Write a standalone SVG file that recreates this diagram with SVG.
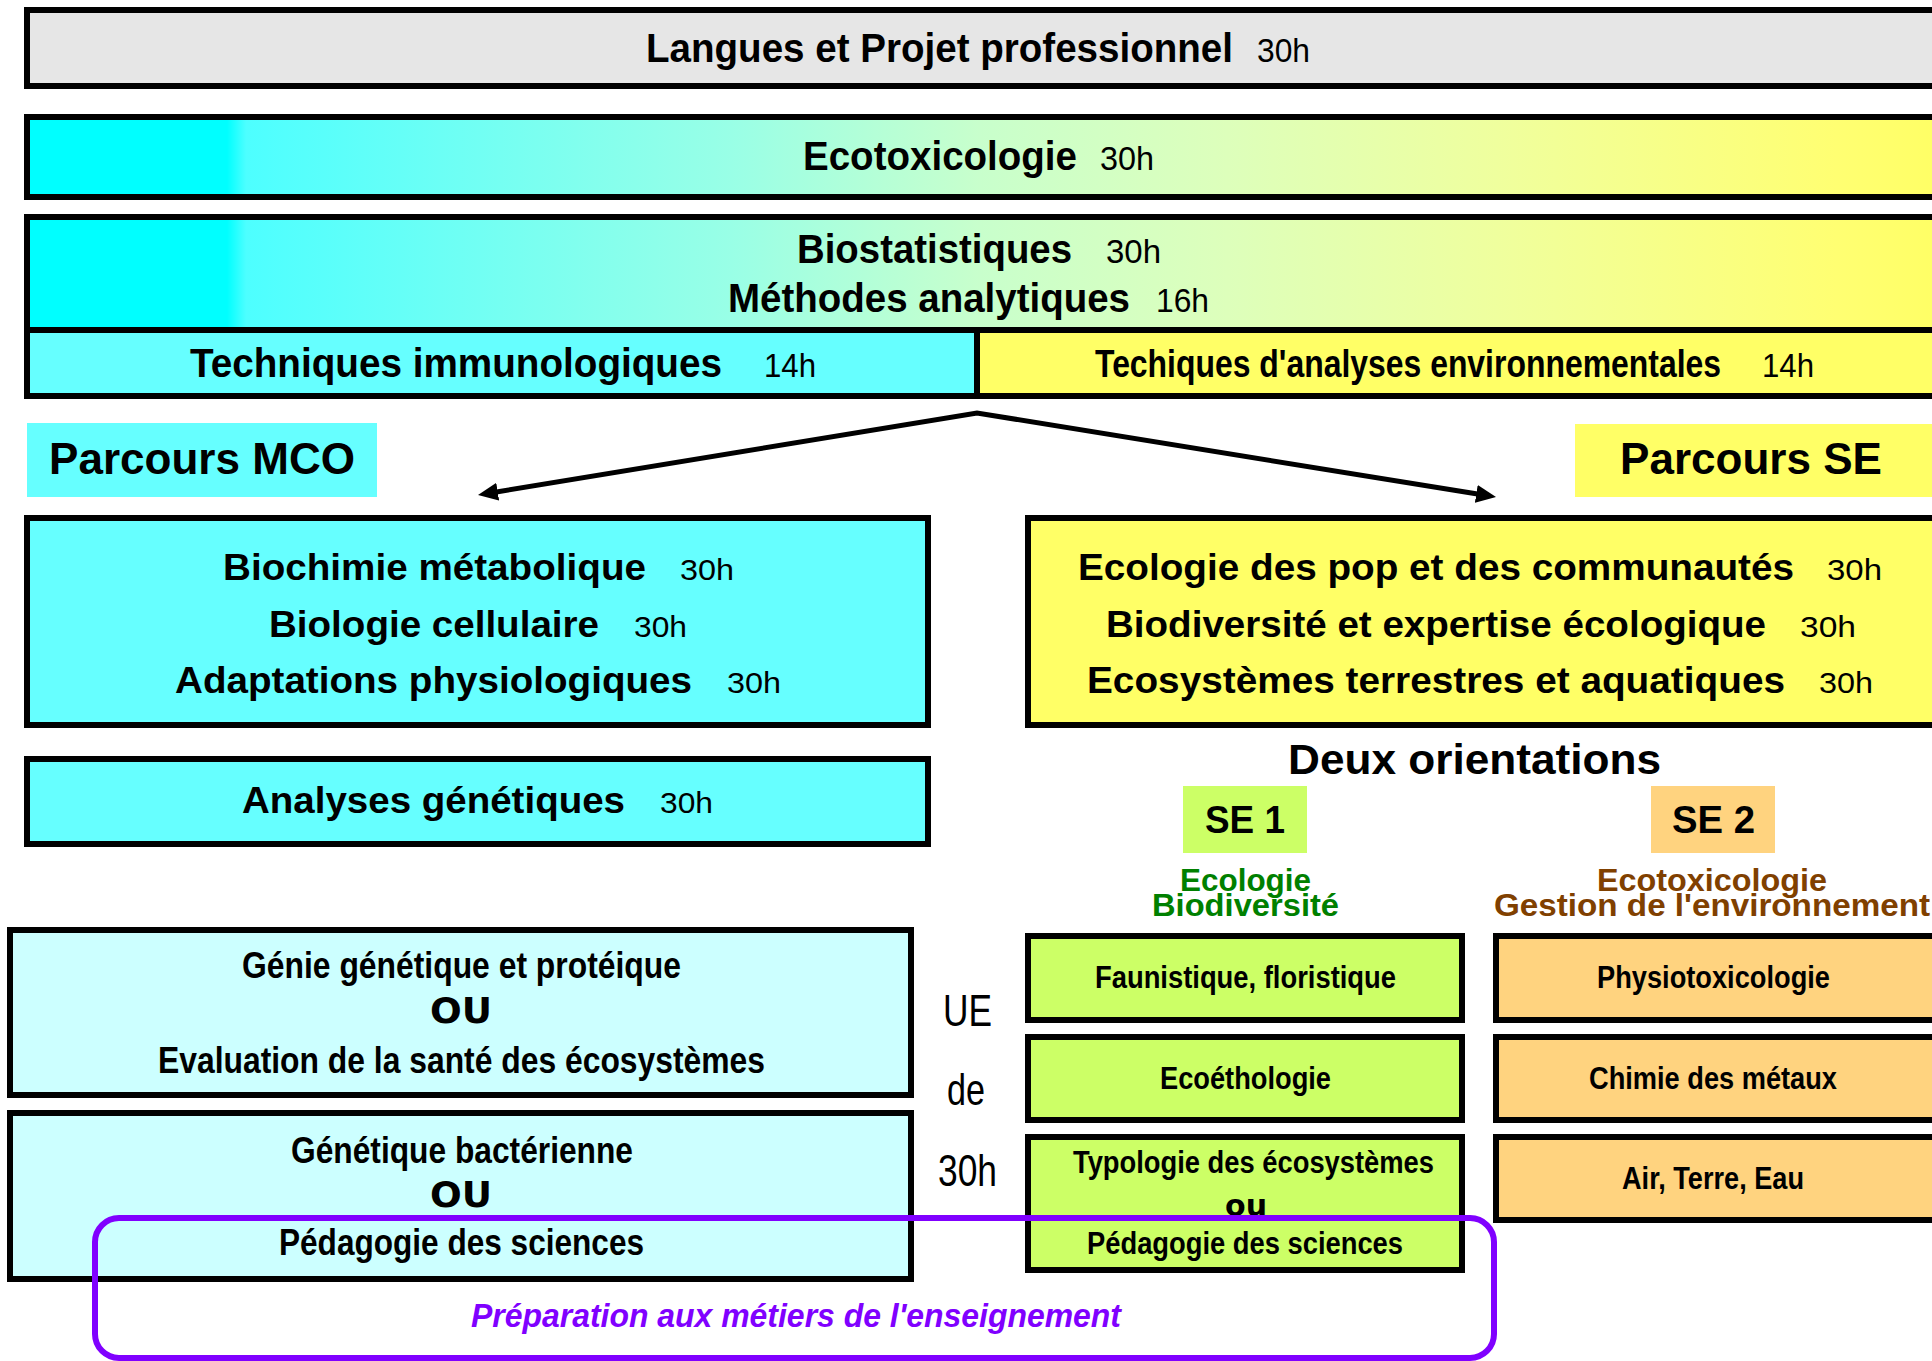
<svg xmlns="http://www.w3.org/2000/svg" width="1932" height="1361" viewBox="0 0 1932 1361">
<style>
text{font-family:'Liberation Sans',Arial,Helvetica,sans-serif;fill:#000}
.b{font-weight:bold}
.n{font-weight:normal}
.s44{font-size:44px}.s42{font-size:42px}.s40{font-size:40px}.s38{font-size:38px}.s36{font-size:36px}.s34{font-size:34px}.s32{font-size:32px}.s30{font-size:30px}
.ou{font-family:'DejaVu Sans',Verdana,sans-serif;font-weight:bold}
.box{stroke:#000;stroke-width:6}
.cy{fill:#66FFFF}.ye{fill:#FFFF66}.lc{fill:#CCFFFF}.gr{fill:#CCFF66}.or{fill:#FFD37F}
.green{fill:#008000}.brown{fill:#804000}
.purple{fill:#8000FF}
</style>
<defs>
<linearGradient id="grad" gradientUnits="userSpaceOnUse" x1="27" y1="0" x2="1932" y2="0">
<stop offset="0" stop-color="#00FFFF"/>
<stop offset="0.105" stop-color="#00FFFF"/>
<stop offset="0.115" stop-color="#4DFFFF"/>
<stop offset="0.37" stop-color="#99FFE6"/>
<stop offset="0.50" stop-color="#C8FFCC"/>
<stop offset="0.63" stop-color="#DDFFBB"/>
<stop offset="0.78" stop-color="#F0FF9C"/>
<stop offset="0.95" stop-color="#FFFF72"/>
<stop offset="1" stop-color="#FFFF66"/>
</linearGradient>
<marker id="arr" markerUnits="userSpaceOnUse" markerWidth="20" markerHeight="18" refX="6" refY="9" orient="auto-start-reverse">
<path d="M0,0 L20,9 L0,18 z" fill="#000"/>
</marker>
</defs>
<rect width="1932" height="1361" fill="#fff"/>

<g id="langues">
<rect class="box" x="27" y="10" width="1910" height="76" fill="#E6E6E6"/>
<text class="b s40" x="646" y="62" textLength="587" lengthAdjust="spacingAndGlyphs">Langues et Projet professionnel</text>
<text class="n s34" x="1257" y="62" textLength="53" lengthAdjust="spacingAndGlyphs">30h</text>
</g>

<g id="ecotox">
<rect class="box" x="27" y="117" width="1910" height="80" fill="url(#grad)"/>
<text class="b s40" x="803" y="170" textLength="274" lengthAdjust="spacingAndGlyphs">Ecotoxicologie</text>
<text class="n s34" x="1100" y="170" textLength="54" lengthAdjust="spacingAndGlyphs">30h</text>
</g>

<g id="biostat">
<rect class="box" x="27" y="217" width="1910" height="113" fill="url(#grad)"/>
<text class="b s40" x="797" y="263" textLength="275" lengthAdjust="spacingAndGlyphs">Biostatistiques</text>
<text class="n s34" x="1106" y="263" textLength="55" lengthAdjust="spacingAndGlyphs">30h</text>
<text class="b s40" x="728" y="312" textLength="402" lengthAdjust="spacingAndGlyphs">Méthodes analytiques</text>
<text class="n s34" x="1156" y="312" textLength="53" lengthAdjust="spacingAndGlyphs">16h</text>
</g>

<g id="techniques-immuno">
<rect class="box cy" x="27" y="330" width="950" height="66"/>
<text class="b s40" x="190" y="377" textLength="532" lengthAdjust="spacingAndGlyphs">Techniques immunologiques</text>
<text class="n s34" x="764" y="377" textLength="52" lengthAdjust="spacingAndGlyphs">14h</text>
</g>

<g id="techniques-env">
<rect class="box ye" x="977" y="330" width="960" height="66"/>
<text class="b s38" x="1095" y="377" textLength="626" lengthAdjust="spacingAndGlyphs">Techiques d'analyses environnementales</text>
<text class="n s34" x="1762" y="377" textLength="52" lengthAdjust="spacingAndGlyphs">14h</text>
</g>

<g id="parcours-mco">
<rect class="cy" x="27" y="423" width="350" height="74"/>
<text class="b s44" x="49" y="474" textLength="306" lengthAdjust="spacingAndGlyphs">Parcours MCO</text>
</g>

<g id="parcours-se">
<rect class="ye" x="1575" y="424" width="357" height="73"/>
<text class="b s44" x="1620" y="474" textLength="262" lengthAdjust="spacingAndGlyphs">Parcours SE</text>
</g>

<g id="connectors">
<path d="M491.8,492.7 L977,413 L1482.2,494.8" fill="none" stroke="#000" stroke-width="5" stroke-linejoin="miter" marker-start="url(#arr)" marker-end="url(#arr)"/>
</g>

<g id="mco-ue">
<rect class="box cy" x="27" y="518" width="901" height="207"/>
<text class="b s36" x="223" y="580" textLength="423" lengthAdjust="spacingAndGlyphs">Biochimie métabolique</text>
<text class="n s30" x="680" y="580" textLength="54" lengthAdjust="spacingAndGlyphs">30h</text>
<text class="b s36" x="269" y="637" textLength="330" lengthAdjust="spacingAndGlyphs">Biologie cellulaire</text>
<text class="n s30" x="634" y="637" textLength="53" lengthAdjust="spacingAndGlyphs">30h</text>
<text class="b s36" x="175" y="693" textLength="517" lengthAdjust="spacingAndGlyphs">Adaptations physiologiques</text>
<text class="n s30" x="727" y="693" textLength="54" lengthAdjust="spacingAndGlyphs">30h</text>
</g>

<g id="analyses">
<rect class="box cy" x="27" y="759" width="901" height="85"/>
<text class="b s36" x="242" y="813" textLength="383" lengthAdjust="spacingAndGlyphs">Analyses génétiques</text>
<text class="n s30" x="660" y="813" textLength="53" lengthAdjust="spacingAndGlyphs">30h</text>
</g>

<g id="se-ue">
<rect class="box ye" x="1028" y="518" width="910" height="207"/>
<text class="b s36" x="1078" y="580" textLength="716" lengthAdjust="spacingAndGlyphs">Ecologie des pop et des communautés</text>
<text class="n s30" x="1827" y="580" textLength="55" lengthAdjust="spacingAndGlyphs">30h</text>
<text class="b s36" x="1106" y="637" textLength="660" lengthAdjust="spacingAndGlyphs">Biodiversité et expertise écologique</text>
<text class="n s30" x="1800" y="637" textLength="56" lengthAdjust="spacingAndGlyphs">30h</text>
<text class="b s36" x="1087" y="693" textLength="698" lengthAdjust="spacingAndGlyphs">Ecosystèmes terrestres et aquatiques</text>
<text class="n s30" x="1819" y="693" textLength="54" lengthAdjust="spacingAndGlyphs">30h</text>
</g>

<g id="deux-orientations">
<text class="b s42" x="1288" y="774" textLength="373" lengthAdjust="spacingAndGlyphs">Deux orientations</text>
</g>

<g id="se1">
<rect class="gr" x="1183" y="786" width="124" height="67"/>
<text class="b s38" x="1205" y="833" textLength="80" lengthAdjust="spacingAndGlyphs">SE 1</text>
<text class="b s32 green" x="1180" y="891" textLength="131" lengthAdjust="spacingAndGlyphs">Ecologie</text>
<text class="b s32 green" x="1152" y="916" textLength="187" lengthAdjust="spacingAndGlyphs">Biodiversité</text>
</g>

<g id="se2">
<rect class="or" x="1651" y="786" width="124" height="67"/>
<text class="b s38" x="1672" y="833" textLength="83" lengthAdjust="spacingAndGlyphs">SE 2</text>
<text class="b s32 brown" x="1597" y="891" textLength="230" lengthAdjust="spacingAndGlyphs">Ecotoxicologie</text>
<text class="b s32 brown" x="1494" y="916" textLength="436" lengthAdjust="spacingAndGlyphs">Gestion de l'environnement</text>
</g>

<g id="mco-option1">
<rect class="box lc" x="10" y="930" width="901" height="165"/>
<text class="b s36" x="242" y="978" textLength="439" lengthAdjust="spacingAndGlyphs">Génie génétique et protéique</text>
<text class="ou s36" x="430" y="1023" textLength="62" lengthAdjust="spacingAndGlyphs">OU</text>
<text class="b s36" x="158" y="1073" textLength="607" lengthAdjust="spacingAndGlyphs">Evaluation de la santé des écosystèmes</text>
</g>

<g id="mco-option2">
<rect class="box lc" x="10" y="1113" width="901" height="166"/>
<text class="b s36" x="291" y="1163" textLength="342" lengthAdjust="spacingAndGlyphs">Génétique bactérienne</text>
<text class="ou s36" x="430" y="1207" textLength="62" lengthAdjust="spacingAndGlyphs">OU</text>
<text class="b s36" x="279" y="1255" textLength="365" lengthAdjust="spacingAndGlyphs">Pédagogie des sciences</text>
</g>

<g id="ue-de-30h">
<text class="n s44" x="943" y="1026" textLength="49" lengthAdjust="spacingAndGlyphs">UE</text>
<text class="n s44" x="947" y="1105" textLength="38" lengthAdjust="spacingAndGlyphs">de</text>
<text class="n s44" x="938" y="1186" textLength="59" lengthAdjust="spacingAndGlyphs">30h</text>
</g>

<g id="faunistique">
<rect class="box gr" x="1028" y="936" width="434" height="84"/>
<text class="b s32" x="1095" y="988" textLength="301" lengthAdjust="spacingAndGlyphs">Faunistique, floristique</text>
</g>
<g id="ecoethologie">
<rect class="box gr" x="1028" y="1037" width="434" height="83"/>
<text class="b s32" x="1160" y="1089" textLength="171" lengthAdjust="spacingAndGlyphs">Ecoéthologie</text>
</g>
<g id="typologie">
<rect class="box gr" x="1028" y="1137" width="434" height="133"/>
<text class="b s32" x="1073" y="1173" textLength="361" lengthAdjust="spacingAndGlyphs">Typologie des écosystèmes</text>
<text class="ou s30" x="1225" y="1216" textLength="42" lengthAdjust="spacingAndGlyphs">ou</text>
<text class="b s32" x="1087" y="1254" textLength="316" lengthAdjust="spacingAndGlyphs">Pédagogie des sciences</text>
</g>

<g id="physiotox">
<rect class="box or" x="1496" y="936" width="440" height="84"/>
<text class="b s32" x="1597" y="988" textLength="233" lengthAdjust="spacingAndGlyphs">Physiotoxicologie</text>
</g>
<g id="chimie">
<rect class="box or" x="1496" y="1037" width="440" height="83"/>
<text class="b s32" x="1589" y="1089" textLength="248" lengthAdjust="spacingAndGlyphs">Chimie des métaux</text>
</g>
<g id="air-terre-eau">
<rect class="box or" x="1496" y="1137" width="440" height="83"/>
<text class="b s32" x="1622" y="1189" textLength="182" lengthAdjust="spacingAndGlyphs">Air, Terre, Eau</text>
</g>

<g id="enseignement">
<rect x="95" y="1218" width="1399" height="140" rx="24" ry="24" fill="none" stroke="#8000FF" stroke-width="6"/>
<text class="b s34 purple" x="471" y="1327" font-style="italic" textLength="650" lengthAdjust="spacingAndGlyphs">Préparation aux métiers de l'enseignement</text>
</g>
</svg>
